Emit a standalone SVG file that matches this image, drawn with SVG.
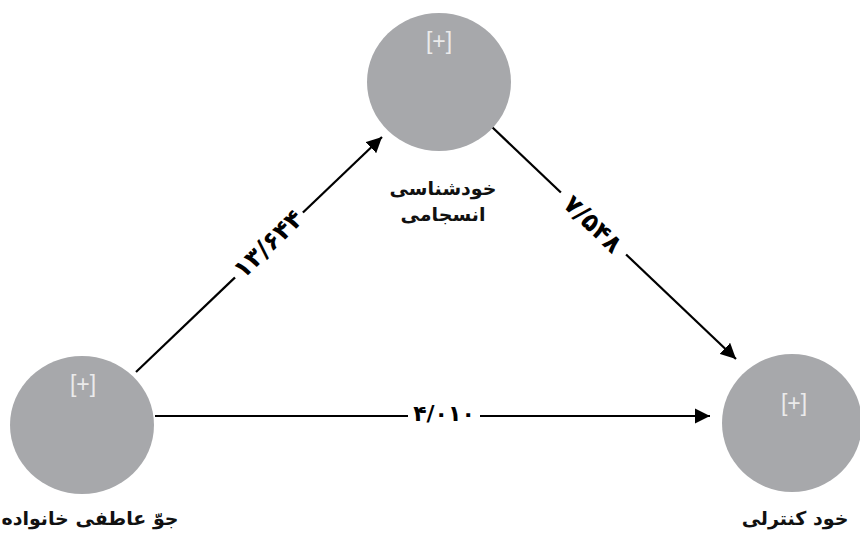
<svg xmlns="http://www.w3.org/2000/svg" width="860" height="542" viewBox="0 0 860 542">
  <style>
    .node { fill: #a7a8ab; }
    .plus { fill: #ebebeb; font-family: "Liberation Sans", Arial, sans-serif; font-size: 23px; text-anchor: middle; }
    .lbl { fill: #111; font-family: "DejaVu Sans", "Noto Sans", sans-serif; font-weight: bold; font-size: 19px; text-anchor: middle; }
    .edge { stroke: #000; stroke-width: 2.2; fill: none; }
    .elbl { fill: #000; font-family: "DejaVu Sans", sans-serif; font-weight: bold; font-size: 25px; text-anchor: middle; dominant-baseline: central; }
    .bg { fill: #fff; }
  </style>
  <defs>
    <marker id="arr" viewBox="0 0 10 10" refX="10" refY="5" markerWidth="7" markerHeight="7" markerUnits="strokeWidth" orient="auto">
      <path d="M0,0 L10,5 L0,10 z" fill="#000"/>
    </marker>
  </defs>
  <rect width="860" height="542" fill="#fff"/>

  <g id="connectors">
    <g id="e1">
      <line class="edge" x1="136" y1="372" x2="382" y2="137" marker-end="url(#arr)"/>
      <g transform="translate(268,244) rotate(-44)">
        <rect class="bg" x="-47" y="-14" width="94" height="28"/>
        <text class="elbl" x="0" y="0">۱۳/۶۴۴</text>
      </g>
    </g>
    <g id="e2">
      <line class="edge" x1="492" y1="127" x2="736" y2="359" marker-end="url(#arr)"/>
      <g transform="translate(593,224) rotate(44)">
        <rect class="bg" x="-45" y="-14" width="90" height="28"/>
        <text class="elbl" x="0" y="0">۷/۵۴۸</text>
      </g>
    </g>
    <g id="e3">
      <line class="edge" x1="155" y1="416" x2="710" y2="416" marker-end="url(#arr)"/>
      <rect class="bg" x="408" y="402" width="72" height="28"/>
      <text class="elbl" x="444" y="413" style="font-size:22px">۴/۰۱۰</text>
    </g>
  </g>

  <g id="n-top">
    <ellipse class="node" cx="439" cy="82" rx="72" ry="69"/>
    <text class="plus" x="439" y="49">[+]</text>
    <text class="lbl" x="443" y="195">خودشناسی</text>
    <text class="lbl" x="443" y="221">انسجامی</text>
  </g>
  <g id="n-left">
    <ellipse class="node" cx="82" cy="425" rx="72" ry="69"/>
    <text class="plus" x="83" y="392">[+]</text>
    <text class="lbl" x="90" y="525">جوّ عاطفی خانواده</text>
  </g>
  <g id="n-right">
    <ellipse class="node" cx="792" cy="423" rx="70" ry="69"/>
    <text class="plus" x="794" y="411">[+]</text>
    <text class="lbl" x="795" y="525">خود کنترلی</text>
  </g>
</svg>
